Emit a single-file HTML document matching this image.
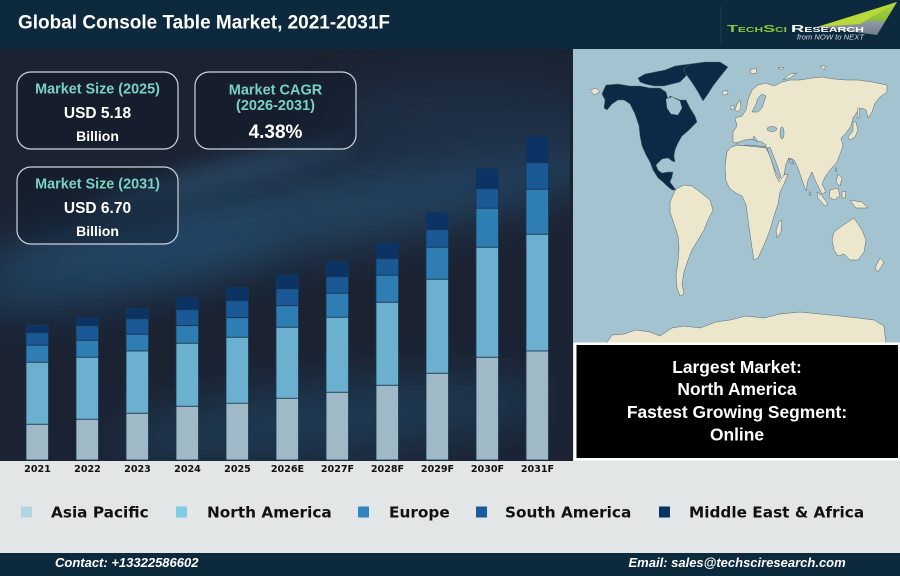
<!DOCTYPE html>
<html><head><meta charset="utf-8"><style>
html,body{margin:0;padding:0;background:#e2e6e7;}
svg{display:block;}
.lib{font-family:"Liberation Sans",Arial,sans-serif;font-weight:bold;}
.dj{font-family:"DejaVu Sans","Liberation Sans",sans-serif;font-weight:bold;}
</style></head><body>
<svg width="900" height="576" viewBox="0 0 900 576" xmlns="http://www.w3.org/2000/svg">
<defs>
<filter id="blur" x="-50%" y="-50%" width="200%" height="200%"><feGaussianBlur stdDeviation="22"/></filter>
<filter id="blur2" x="-50%" y="-50%" width="200%" height="200%"><feGaussianBlur stdDeviation="10"/></filter>
<clipPath id="chartclip"><rect x="0" y="49" width="573" height="412"/></clipPath>
<clipPath id="mapclip"><rect x="573" y="49" width="327" height="294"/></clipPath>
<linearGradient id="logo" x1="0" y1="0" x2="0" y2="1"><stop offset="0" stop-color="#b6d638"/><stop offset="0.55" stop-color="#8bbf3a"/><stop offset="0.6" stop-color="#8f9aa3"/><stop offset="1" stop-color="#6f7c86"/></linearGradient>
</defs>

<rect x="0" y="0" width="900" height="576" fill="#e2e6e7"/>

<!-- chart background -->
<rect x="0" y="49" width="573" height="412" fill="#1b2333"/>
<g clip-path="url(#chartclip)">
  <ellipse cx="300" cy="215" rx="330" ry="38" fill="#2a5b82" opacity="0.55" transform="rotate(-10 300 215)" filter="url(#blur)"/>
  <ellipse cx="120" cy="270" rx="160" ry="30" fill="#245073" opacity="0.5" transform="rotate(-12 120 270)" filter="url(#blur)"/>
  <ellipse cx="330" cy="420" rx="220" ry="35" fill="#24506f" opacity="0.5" transform="rotate(-6 330 420)" filter="url(#blur)"/>
  <ellipse cx="470" cy="120" rx="150" ry="40" fill="#203a55" opacity="0.5" filter="url(#blur)"/>
  <ellipse cx="220" cy="175" rx="140" ry="14" fill="#3a6f96" opacity="0.35" transform="rotate(-14 220 175)" filter="url(#blur2)"/>
</g>

<!-- header -->
<rect x="0" y="0" width="900" height="49" fill="#0c293d"/>
<text x="18" y="28.5" class="lib" font-size="19" fill="#ffffff" textLength="372" lengthAdjust="spacingAndGlyphs">Global Console Table Market, 2021-2031F</text>
<line x1="721" y1="6" x2="721" y2="45" stroke="#1e3a50" stroke-width="1"/>
<polygon points="817,27 897,2 877,35" fill="url(#logo)"/>
<polygon points="817,27 897,2 860,24" fill="#b9d83a"/>
<text x="727" y="32" class="lib" font-size="10.5" fill="#8cc63f" style="font-variant:small-caps" textLength="60" lengthAdjust="spacingAndGlyphs">TechSci</text>
<text x="791" y="32" class="lib" font-size="10.5" fill="#ffffff" style="font-variant:small-caps" textLength="73" lengthAdjust="spacingAndGlyphs">Research</text>
<text x="797" y="39.5" font-family="Liberation Sans, sans-serif" font-style="italic" font-size="7" fill="#d8dde2" textLength="67" lengthAdjust="spacingAndGlyphs">from NOW to NEXT</text>

<!-- info boxes -->
<g fill="rgba(14,22,36,0.35)" stroke="#cdd4da" stroke-width="1.2">
  <rect x="17" y="72" width="161" height="77" rx="14"/>
  <rect x="195" y="72" width="161" height="77" rx="14"/>
  <rect x="17" y="167" width="161" height="77" rx="14"/>
</g>
<g class="lib" text-anchor="middle">
  <text x="97.5" y="93.3" font-size="14.4" fill="#7ad1c4">Market Size (2025)</text>
  <text x="97.5" y="117.8" font-size="15.5" fill="#ffffff">USD 5.18</text>
  <text x="97.5" y="141" font-size="14" fill="#ffffff">Billion</text>
  <text x="275.5" y="94.3" font-size="14.5" fill="#7ad1c4">Market CAGR</text>
  <text x="275.5" y="110" font-size="14.5" fill="#7ad1c4">(2026-2031)</text>
  <text x="275.5" y="137.8" font-size="19" fill="#ffffff">4.38%</text>
  <text x="97.5" y="188.3" font-size="14.4" fill="#7ad1c4">Market Size (2031)</text>
  <text x="97.5" y="212.8" font-size="15.5" fill="#ffffff">USD 6.70</text>
  <text x="97.5" y="236" font-size="14" fill="#ffffff">Billion</text>
</g>

<!-- bars -->
<g stroke="#1a3550" stroke-width="0.8">
<g transform="translate(26,0)">
<rect x="0" y="325" width="22.5" height="7.7" fill="#0b3465"/><rect x="0" y="332.7" width="22.5" height="12.6" fill="#1b5896"/><rect x="0" y="345.3" width="22.5" height="17" fill="#2e7db3"/><rect x="0" y="362.3" width="22.5" height="62" fill="#6cb0cf"/><rect x="0" y="424.3" width="22.5" height="35.7" fill="#a0b9c6"/>
</g>
<g transform="translate(76,0)">
<rect x="0" y="317.3" width="22.5" height="8.4" fill="#0b3465"/><rect x="0" y="325.7" width="22.5" height="14.6" fill="#1b5896"/><rect x="0" y="340.3" width="22.5" height="17" fill="#2e7db3"/><rect x="0" y="357.3" width="22.5" height="62" fill="#6cb0cf"/><rect x="0" y="419.3" width="22.5" height="40.7" fill="#a0b9c6"/>
</g>
<g transform="translate(126,0)">
<rect x="0" y="308.3" width="22.5" height="10.4" fill="#0b3465"/><rect x="0" y="318.7" width="22.5" height="15.6" fill="#1b5896"/><rect x="0" y="334.3" width="22.5" height="16.7" fill="#2e7db3"/><rect x="0" y="351" width="22.5" height="62.3" fill="#6cb0cf"/><rect x="0" y="413.3" width="22.5" height="46.7" fill="#a0b9c6"/>
</g>
<g transform="translate(176,0)">
<rect x="0" y="297.3" width="22.5" height="12.4" fill="#0b3465"/><rect x="0" y="309.7" width="22.5" height="16" fill="#1b5896"/><rect x="0" y="325.7" width="22.5" height="17.6" fill="#2e7db3"/><rect x="0" y="343.3" width="22.5" height="63" fill="#6cb0cf"/><rect x="0" y="406.3" width="22.5" height="53.7" fill="#a0b9c6"/>
</g>
<g transform="translate(226,0)">
<rect x="0" y="287.3" width="22.5" height="13.4" fill="#0b3465"/><rect x="0" y="300.7" width="22.5" height="17" fill="#1b5896"/><rect x="0" y="317.7" width="22.5" height="19.6" fill="#2e7db3"/><rect x="0" y="337.3" width="22.5" height="66" fill="#6cb0cf"/><rect x="0" y="403.3" width="22.5" height="56.7" fill="#a0b9c6"/>
</g>
<g transform="translate(276,0)">
<rect x="0" y="274" width="22.5" height="14.7" fill="#0b3465"/><rect x="0" y="288.7" width="22.5" height="17" fill="#1b5896"/><rect x="0" y="305.7" width="22.5" height="21.6" fill="#2e7db3"/><rect x="0" y="327.3" width="22.5" height="71" fill="#6cb0cf"/><rect x="0" y="398.3" width="22.5" height="61.7" fill="#a0b9c6"/>
</g>
<g transform="translate(326,0)">
<rect x="0" y="261.3" width="22.5" height="15.4" fill="#0b3465"/><rect x="0" y="276.7" width="22.5" height="16.6" fill="#1b5896"/><rect x="0" y="293.3" width="22.5" height="24" fill="#2e7db3"/><rect x="0" y="317.3" width="22.5" height="75" fill="#6cb0cf"/><rect x="0" y="392.3" width="22.5" height="67.7" fill="#a0b9c6"/>
</g>
<g transform="translate(376,0)">
<rect x="0" y="242.3" width="22.5" height="16.4" fill="#0b3465"/><rect x="0" y="258.7" width="22.5" height="16.6" fill="#1b5896"/><rect x="0" y="275.3" width="22.5" height="27" fill="#2e7db3"/><rect x="0" y="302.3" width="22.5" height="83" fill="#6cb0cf"/><rect x="0" y="385.3" width="22.5" height="74.7" fill="#a0b9c6"/>
</g>
<g transform="translate(426,0)">
<rect x="0" y="212.3" width="22.5" height="17.4" fill="#0b3465"/><rect x="0" y="229.7" width="22.5" height="17.6" fill="#1b5896"/><rect x="0" y="247.3" width="22.5" height="32" fill="#2e7db3"/><rect x="0" y="279.3" width="22.5" height="94" fill="#6cb0cf"/><rect x="0" y="373.3" width="22.5" height="86.7" fill="#a0b9c6"/>
</g>
<g transform="translate(476,0)">
<rect x="0" y="168.3" width="22.5" height="20.4" fill="#0b3465"/><rect x="0" y="188.7" width="22.5" height="19.6" fill="#1b5896"/><rect x="0" y="208.3" width="22.5" height="39" fill="#2e7db3"/><rect x="0" y="247.3" width="22.5" height="110" fill="#6cb0cf"/><rect x="0" y="357.3" width="22.5" height="102.7" fill="#a0b9c6"/>
</g>
<g transform="translate(526,0)">
<rect x="0" y="136" width="22.5" height="26.7" fill="#0b3465"/><rect x="0" y="162.7" width="22.5" height="26.6" fill="#1b5896"/><rect x="0" y="189.3" width="22.5" height="45" fill="#2e7db3"/><rect x="0" y="234.3" width="22.5" height="116.7" fill="#6cb0cf"/><rect x="0" y="351" width="22.5" height="109" fill="#a0b9c6"/>
</g>
</g>

<!-- x axis labels -->
<g class="dj" font-size="9.6" fill="#111111" text-anchor="middle">
<text x="37.5" y="471.8">2021</text>
<text x="87.5" y="471.8">2022</text>
<text x="137.5" y="471.8">2023</text>
<text x="187.5" y="471.8">2024</text>
<text x="237.5" y="471.8">2025</text>
<text x="287.5" y="471.8">2026E</text>
<text x="337.5" y="471.8">2027F</text>
<text x="387.5" y="471.8">2028F</text>
<text x="437.5" y="471.8">2029F</text>
<text x="487.5" y="471.8">2030F</text>
<text x="537.5" y="471.8">2031F</text>
</g>

<!-- map -->
<rect x="570" y="49" width="3" height="412" fill="#1b2333"/>
<rect x="573" y="49" width="327" height="294" fill="#a3c3d1"/>
<g clip-path="url(#mapclip)" stroke="#56656b" stroke-width="0.5" stroke-linejoin="round">
  <!-- North America -->
  <polygon fill="#0c2a45" points="606,85 618,84 630,86 640,86 650,88 660,88 666,92 668,99 670,96 680,100 686,100 690,108 695,116 697,122 692,127 688,131 682,136 678,143 675,150 674,156 675,162 672,161 668,158 662,159 656,165 658,170 662,173 668,172 673,172 672,177 670,182 673,186 676,190 672,190 667,186 663,182 658,178 653,170 650,162 646,155 642,146 640,136 639,126 635,114 630,104 624,100 618,100 612,104 607,110 604,108 605,100 602,94 604,89"/>
  <polygon fill="#a3c3d1" stroke="none" points="666,99 672,97 680,101 682,108 678,115 671,114 667,108"/>
  <polygon fill="#0c2a45" points="638,78 645,74 655,72 665,70 675,66 690,64 692,70 686,76 680,82 672,84 664,86 654,86 645,84 640,82"/>
  <polygon fill="#0c2a45" points="683,69 690,64 705,62 720,62 728,67 724,72 720,77 713,86 708,94 703,101 698,92 693,84 688,77"/>
  <polygon fill="#ebe6cc" points="590,90 596,88 600,92 594,95"/>
  <!-- South America -->
  <polygon fill="#ebe6cc" points="676,189 684,185 692,186 700,192 710,200 713,210 708,220 704,230 698,240 692,250 688,260 684,272 682,284 684,294 680,296 677,288 676,276 678,262 679,248 678,236 674,224 670,212 670,202 673,195"/>
  <!-- Africa -->
  <polygon fill="#ebe6cc" points="727,152 731,147 738,145 748,146 758,147 766,148 770,156 775,166 780,176 788,174 784,184 780,192 778,204 774,216 770,230 764,245 758,258 754,260 752,248 750,234 748,220 746,205 742,196 736,193 730,189 726,181 725,168 726,158"/>
  <polygon fill="#ebe6cc" points="779,222 782,220 781,232 777,238 776,230"/>
  <!-- Eurasia -->
  <polygon fill="#ebe6cc" points="733,142 733,132 737,126 735,118 742,116 746,110 748,100 752,90 758,85 766,83 774,86 782,82 790,80 800,80 812,78 822,77 834,79 846,80 858,80 872,82 887,85 887,92 880,97 875,103 872,112 868,118 866,110 862,108 857,112 853,118 851,126 846,133 841,138 843,146 840,154 837,162 830,170 825,177 822,184 826,192 822,194 818,186 815,180 812,172 808,180 806,191 802,180 798,168 794,160 789,158 786,164 784,175 779,182 776,176 773,166 770,156 767,148 762,146 758,142 754,136 752,142 748,140 744,141 740,142 736,143"/>
  <polygon fill="#a3c3d1" points="752,112 756,104 758,98 762,94 766,96 764,102 762,108 758,112"/>
  <polygon fill="#a3c3d1" points="736,143 745,140 752,139 756,141 762,142 766,145 766,147 758,146 748,145 740,146"/>
  <polygon fill="#a3c3d1" points="767,148 770,147 777,165 781,177 779,179 774,168"/>
  <polygon fill="#a3c3d1" points="788,158 792,160 794,164 790,163"/>
  <ellipse cx="772" cy="129" rx="5" ry="2.5" fill="#a3c3d1"/>
  <ellipse cx="782" cy="133" rx="2" ry="6" fill="#a3c3d1"/>
  <!-- islands -->
  <polygon fill="#ebe6cc" points="737,104 740,100 741,108 738,112 735,110"/>
  <polygon fill="#ebe6cc" points="731,106 734,105 734,109 731,110"/>
  <polygon fill="#ebe6cc" points="722,92 727,90 728,94 723,95"/>
  <polygon fill="#ebe6cc" points="750,70 756,68 757,73 751,74"/>
  <polygon fill="#ebe6cc" points="783,80 790,74 797,73 790,78"/>
  <polygon fill="#ebe6cc" points="778,68 784,67 782,70"/>
  <polygon fill="#ebe6cc" points="820,66 826,66 824,70"/>
  <polygon fill="#ebe6cc" points="853,122 856,122 858,130 855,137 850,140 848,137 853,131"/>
  <polygon fill="#ebe6cc" points="858,108 860,108 859,118 857,118"/>
  <polygon fill="#ebe6cc" points="809,192 811,192 810,196"/>
  <polygon fill="#ebe6cc" points="817,192 822,196 828,204 825,206 818,198"/>
  <polygon fill="#ebe6cc" points="830,190 838,188 840,196 834,200 829,197"/>
  <polygon fill="#ebe6cc" points="842,192 846,191 845,198 842,198"/>
  <polygon fill="#ebe6cc" points="850,200 862,202 868,208 856,208"/>
  <polygon fill="#ebe6cc" points="838,174 842,178 840,186 836,182"/>
  <polygon fill="#ebe6cc" points="835,168 837,168 836,172"/>
  <!-- Australia -->
  <polygon fill="#ebe6cc" points="834,232 842,226 848,222 854,218 858,224 862,230 866,240 864,252 858,260 850,260 844,254 838,256 834,250 832,240"/>
  <polygon fill="#ebe6cc" points="880,258 884,262 878,272 875,268"/>
  <!-- Antarctica -->
  <polygon fill="#ebe6cc" points="606,344 612,335 624,334 636,330 650,332 660,336 672,328 684,326 700,328 716,322 730,320 746,316 764,318 780,314 800,312 820,314 840,316 858,318 874,320 884,326 886,344"/>
</g>

<!-- info black box -->
<rect x="574" y="342.5" width="326" height="118" fill="#ffffff"/>
<rect x="576.5" y="345" width="321.5" height="113" fill="#000000"/>
<g class="lib" font-size="17.4" fill="#ffffff" text-anchor="middle">
<text x="737" y="372.9">Largest Market:</text>
<text x="737" y="395.2">North America</text>
<text x="737" y="417.9">Fastest Growing Segment:</text>
<text x="737" y="440.5">Online</text>
</g>

<!-- legend -->
<rect x="21" y="506.5" width="11" height="11" fill="#b3d3e3"/>
<rect x="176" y="506.5" width="11" height="11" fill="#7ecbe6"/>
<rect x="358" y="506.5" width="11" height="11" fill="#2f86c0"/>
<rect x="476" y="506.5" width="11" height="11" fill="#1c5aa0"/>
<rect x="659" y="506.5" width="11" height="11" fill="#0a3262"/>
<g class="dj" font-size="15.3" fill="#111111">
<text x="51" y="517.3">Asia Pacific</text>
<text x="207" y="517.3">North America</text>
<text x="389" y="517.3">Europe</text>
<text x="505" y="517.3">South America</text>
<text x="689" y="517.3">Middle East &amp; Africa</text>
</g>

<!-- footer -->
<rect x="0" y="553" width="900" height="23" fill="#0d293c"/>
<g font-family="Liberation Sans, Arial, sans-serif" font-weight="bold" font-style="italic" font-size="13" fill="#ffffff">
<text x="55" y="567">Contact: +13322586602</text>
<text x="628.5" y="567">Email: sales@techsciresearch.com</text>
</g>
</svg>
</body></html>
